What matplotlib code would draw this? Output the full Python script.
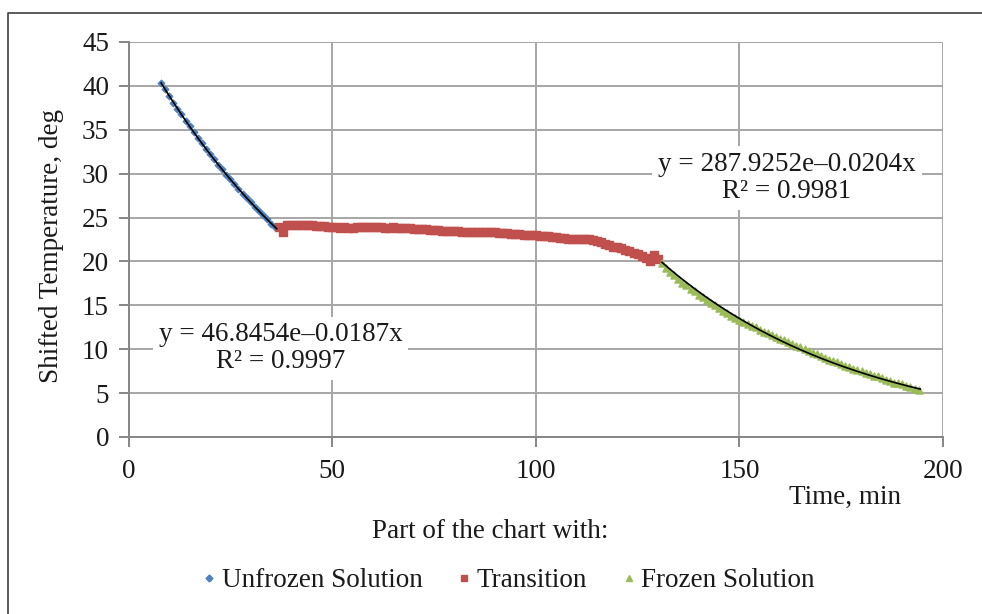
import numpy as np
import matplotlib
matplotlib.use("Agg")
import matplotlib.pyplot as plt
from matplotlib.lines import Line2D

plt.rcParams['font.family'] = ['Liberation Serif', 'DejaVu Serif']

# time in minutes, shifted temperature in deg
t_unfrozen = [8, 9, 10, 11, 12, 13, 14, 15, 16, 17, 18, 19, 20, 21, 22, 23, 24,
              25, 26, 27, 28, 29, 30, 31, 32, 33, 34, 35, 36]
y_unfrozen = [40.3, 39.6, 38.9, 38.1, 37.4, 36.8, 36.0, 35.4, 34.7, 34.1, 33.5,
              32.8, 32.2, 31.7, 31.0, 30.5, 29.9, 29.4, 28.8, 28.3, 27.7, 27.2,
              26.8, 26.2, 25.8, 25.3, 24.8, 24.3, 23.9]

t_transition = [37, 38, 39, 40, 41, 42, 43, 44, 45, 46, 47, 48, 49, 50, 51, 52,
                53, 54, 55, 56, 57, 58, 59, 60, 61, 62, 63, 64, 65, 66, 67, 68,
                69, 70, 71, 72, 73, 74, 75, 76, 77, 78, 79, 80, 81, 82, 83, 84,
                85, 86, 87, 88, 89, 90, 91, 92, 93, 94, 95, 96, 97, 98, 99, 100,
                101, 102, 103, 104, 105, 106, 107, 108, 109, 110, 111, 112, 113,
                114, 115, 116, 117, 118, 119, 120, 121, 122, 123, 124, 125, 126,
                127, 128, 129, 130]
y_transition = [23.9, 23.4, 24.1, 24.2, 24.2, 24.1, 24.2, 24.1, 24.1, 24.0, 24.0,
                24.0, 23.9, 23.9, 23.9, 23.8, 23.9, 23.8, 23.8, 23.9, 23.9, 23.9,
                23.9, 23.9, 23.9, 23.9, 23.8, 23.8, 23.9, 23.8, 23.8, 23.8, 23.8,
                23.7, 23.7, 23.7, 23.7, 23.6, 23.6, 23.6, 23.5, 23.5, 23.5, 23.5,
                23.5, 23.4, 23.4, 23.4, 23.4, 23.4, 23.3, 23.3, 23.3, 23.3, 23.2,
                23.2, 23.2, 23.1, 23.1, 23.1, 23.0, 23.0, 23.0, 23.0, 22.9, 22.9,
                22.9, 22.8, 22.8, 22.7, 22.7, 22.6, 22.6, 22.6, 22.6, 22.6, 22.5,
                22.4, 22.3, 22.2, 22.0, 21.9, 21.7, 21.6, 21.5, 21.3, 21.2, 21.0,
                20.8, 20.6, 20.4, 20.1, 20.7, 20.3]

t_frozen = [131, 132, 133, 134, 135, 136, 137, 138, 139, 140, 141, 142, 143, 144,
            145, 146, 147, 148, 149, 150, 151, 152, 153, 154, 155, 156, 157, 158,
            159, 160, 161, 162, 163, 164, 165, 166, 167, 168, 169, 170, 171, 172,
            173, 174, 175, 176, 177, 178, 179, 180, 181, 182, 183, 184, 185, 186,
            187, 188, 189, 190, 191, 192, 193, 194]
y_frozen = [19.8, 19.3, 18.8, 18.4, 18.0, 17.6, 17.3, 16.9, 16.6, 16.2, 15.9, 15.6,
            15.3, 15.0, 14.7, 14.4, 14.1, 13.8, 13.6, 13.3, 13.1, 12.9, 12.7, 12.5,
            12.2, 12.0, 11.8, 11.6, 11.4, 11.2, 11.0, 10.8, 10.6, 10.4, 10.2, 10.0,
            9.8, 9.6, 9.4, 9.2, 9.0, 8.8, 8.7, 8.5, 8.3, 8.1, 8.0, 7.8, 7.6, 7.5,
            7.3, 7.2, 7.0, 6.9, 6.7, 6.5, 6.4, 6.2, 6.1, 6.0, 5.8, 5.7, 5.5, 5.4]

# exponential trendlines as printed on the chart
fit_unfrozen = (46.8454, -0.0187, 0.9997)
fit_frozen = (287.9252, -0.0204, 0.9981)

fig = plt.figure(figsize=(9.82, 6.14), dpi=100)
ax = fig.add_axes([0.1309, 0.2883, 0.8294, 0.6433])

fs = 19.5
grid_col = '#A6A6A6'
ax.scatter(t_unfrozen, y_unfrozen, marker='D', s=11, color='#4F81BD', zorder=3)
ax.scatter(t_transition, y_transition, marker='s', s=34, color='#C0504D', zorder=3)
ax.scatter(t_frozen, y_frozen, marker='^', s=26, color='#9BBB59', zorder=3)

for (a, b, r2), ts in ((fit_unfrozen, t_unfrozen), (fit_frozen, t_frozen)):
    xx = np.linspace(ts[0], ts[-1] + 0.4, 200)
    ax.plot(xx, a * np.exp(b * xx), color='black', lw=1.2, zorder=4)

ax.text(37.4, 10.1, "y = 46.8454e\u20130.0187x\nR\u00b2 = 0.9997", ha='center', va='center',
        fontsize=fs, linespacing=1.12, zorder=5, color='#1a1a1a',
        bbox=dict(facecolor='white', edgecolor='none', pad=4))
ax.text(161.7, 29.5, "y = 287.9252e\u20130.0204x\nR\u00b2 = 0.9981", ha='center', va='center',
        fontsize=fs, linespacing=1.12, zorder=5, color='#1a1a1a',
        bbox=dict(facecolor='white', edgecolor='none', pad=4))

ax.set_xlim(0, 200)
ax.set_ylim(0, 45)
ax.set_xticks([0, 50, 100, 150, 200])
ax.set_yticks(range(0, 46, 5))
ax.grid(True, color=grid_col, lw=1.4)
ax.set_axisbelow(True)
for s in ('top', 'right'):
    ax.spines[s].set_visible(False)
for s in ('left', 'bottom'):
    ax.spines[s].set_color('#868686')
    ax.spines[s].set_linewidth(1.4)
ax.tick_params(axis='both', colors='#868686', labelcolor='#1a1a1a', labelsize=fs,
               length=7, width=1.4, direction='out')
ax.tick_params(axis='x', pad=9)
ax.tick_params(axis='y', pad=7)

fig.text(0.052, 0.599, "Shifted Temperature, deg", rotation=90, ha='center', va='center',
         fontsize=fs, color='#1a1a1a')
fig.text(0.8605, 0.1906, "Time, min", ha='center', va='center', fontsize=fs, color='#1a1a1a')
fig.text(0.499, 0.135, "Part of the chart with:", ha='center', va='center', fontsize=fs,
         color='#1a1a1a')

handles = [
    Line2D([], [], ls='none', marker='D', ms=3.5, color='#4F81BD'),
    Line2D([], [], ls='none', marker='s', ms=5, color='#C0504D'),
    Line2D([], [], ls='none', marker='^', ms=5, color='#9BBB59'),
]
fig.legend(handles, ["Unfrozen Solution", "Transition", "Frozen Solution"],
           loc='center', bbox_to_anchor=(0.518, 0.054), ncol=3, frameon=False,
           fontsize=fs, handlelength=0.5, handletextpad=0.2, columnspacing=1.3,
           labelcolor='#1a1a1a')

# outer chart frame (only top and left edges are visible in the crop)
fig.add_artist(Line2D([8 / 982, 8 / 982, 1.0], [0.0, 1 - 13 / 614, 1 - 13 / 614],
                      transform=fig.transFigure, color='#404040', lw=1.2))

fig.savefig("out.png", dpi=100)
